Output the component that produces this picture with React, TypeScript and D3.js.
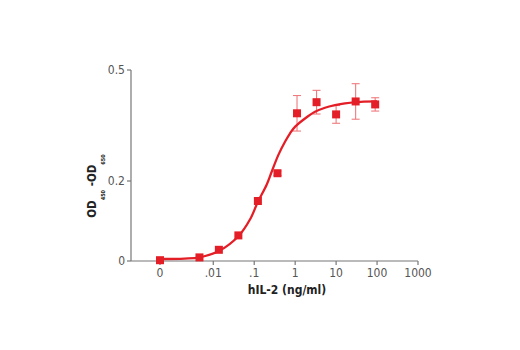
import React from "react";
import * as d3 from "d3";

const pointConc = [0, 0.0046, 0.0137, 0.041, 0.123, 0.37, 1.11, 3.33, 10, 30, 90];
const pointOD = [0.002, 0.009, 0.028, 0.064, 0.15, 0.221, 0.383, 0.413, 0.38, 0.415, 0.407];
const pointErr = [0, 0, 0, 0, 0, 0.006, 0.048, 0.032, 0.024, 0.048, 0.018];

const curveConc = [0.0005, 0.002, 0.0046, 0.0137, 0.041, 0.08, 0.123, 0.2, 0.267, 0.387, 0.565, 0.75, 1, 1.74, 3.05, 5.35, 9.4, 16.5, 40, 100];
const curveOD = [0.005, 0.006, 0.009, 0.025, 0.062, 0.105, 0.148, 0.19, 0.225, 0.27, 0.306, 0.329, 0.347, 0.369, 0.387, 0.398, 0.405, 0.41, 0.414, 0.415];

const xTickValues = [0, 0.01, 0.1, 1, 10, 100, 1000];
const xTickLabels = ["0", ".01", ".1", "1", "10", "100", "1000"];
const yTickValues = [0, 0.2, 0.5];
const yTickLabels = ["0", "0.2", "0.5"];

const RED = "#e41e26";
const ERR = "#f07a7e";
const AXIS = "#777";
const FONT = "'Liberation Sans Narrow', 'DejaVu Sans Condensed', 'Roboto Condensed', sans-serif";

export default function App() {
  const logX = d3.scaleLog().domain([0.0005, 1000]).range([160, 418]);
  const xPos = (c: number) => (c <= 0 ? 160 : logX(c));
  const y = d3.scaleLinear().domain([0, 0.2, 0.5]).range([261, 181, 70]);
  const axisX0 = 131;

  const line = d3
    .line<number>()
    .x((_, i) => xPos(curveConc[i]))
    .y((d) => y(d))
    .curve(d3.curveCatmullRom.alpha(0.5));

  const ms = 8;

  return (
    <svg width={520} height={350} style={{ position: "absolute", left: 0, top: 0, background: "#fff" }}>
      <line x1={axisX0} x2={axisX0} y1={y(0.5)} y2={y(0)} stroke={AXIS} strokeWidth={1.2} />
      <line x1={axisX0} x2={xPos(1000)} y1={y(0)} y2={y(0)} stroke={AXIS} strokeWidth={1.2} />
      {yTickValues.map((v, i) => (
        <g key={"y" + i}>
          <line x1={axisX0 - 4} x2={axisX0} y1={y(v)} y2={y(v)} stroke={AXIS} strokeWidth={1.2} />
          <text x={axisX0 - 6} y={y(v)} dy="0.35em" textAnchor="end" fontSize={12} fill="#555" fontFamily={FONT}>
            {yTickLabels[i]}
          </text>
        </g>
      ))}
      {xTickValues.map((v, i) => (
        <g key={"x" + i}>
          <line x1={xPos(v)} x2={xPos(v)} y1={y(0)} y2={y(0) + 4} stroke={AXIS} strokeWidth={1.2} />
          <text x={xPos(v)} y={y(0) + 16} textAnchor="middle" fontSize={12} fill="#555" fontFamily={FONT}>
            {xTickLabels[i]}
          </text>
        </g>
      ))}
      <text x={287} y={294} textAnchor="middle" fontSize={12} fontWeight="bold" fill="#222" fontFamily={FONT}>
        hIL-2 (ng/ml)
      </text>
      <text
        transform={`translate(96, 186) rotate(-90)`}
        textAnchor="middle"
        fontSize={11.5}
        fontWeight="bold"
        fill="#222"
        fontFamily={FONT}
      >
        <tspan>OD</tspan>
        <tspan fontSize={5.5} dy={8.5}>450</tspan>
        <tspan dy={-8.5}> -OD</tspan>
        <tspan fontSize={5.5} dy={8.5}>650</tspan>
      </text>

      {pointConc.map((c, i) =>
        pointErr[i] > 0 ? (
          <g key={"e" + i} stroke={ERR} strokeWidth={1.1}>
            <line x1={xPos(c)} x2={xPos(c)} y1={y(pointOD[i] + pointErr[i])} y2={y(pointOD[i] - pointErr[i])} />
            <line x1={xPos(c) - 4} x2={xPos(c) + 4} y1={y(pointOD[i] + pointErr[i])} y2={y(pointOD[i] + pointErr[i])} />
            <line x1={xPos(c) - 4} x2={xPos(c) + 4} y1={y(pointOD[i] - pointErr[i])} y2={y(pointOD[i] - pointErr[i])} />
          </g>
        ) : null
      )}

      <path d={line(curveOD) || ""} fill="none" stroke={RED} strokeWidth={2.3} />

      {pointConc.map((c, i) => (
        <rect key={"p" + i} x={xPos(c) - ms / 2} y={y(pointOD[i]) - ms / 2} width={ms} height={ms} fill={RED} />
      ))}
    </svg>
  );
}
